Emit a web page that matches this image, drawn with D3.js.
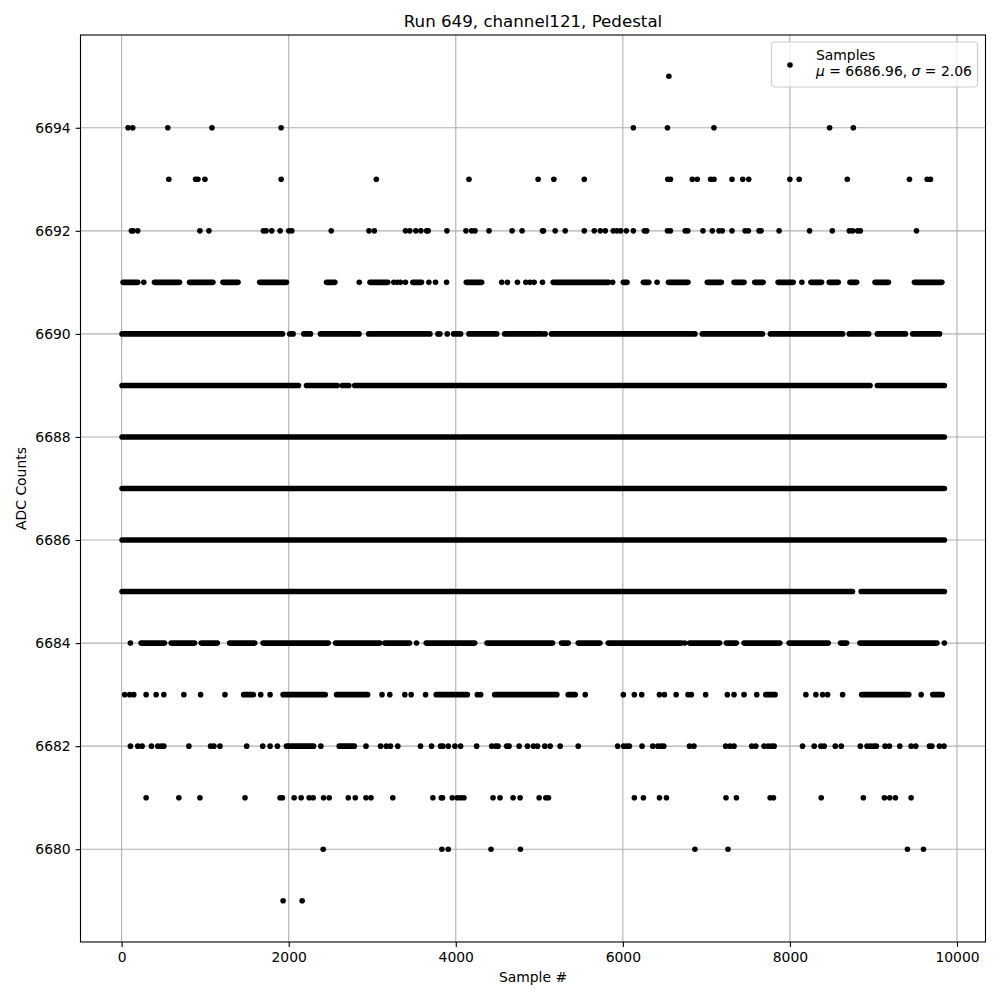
<!DOCTYPE html>
<html><head><meta charset="utf-8">
<script src="https://cdn.jsdelivr.net/npm/d3@7"></script>
<style>body{margin:0;background:#fff} text{font-family:"DejaVu Sans",sans-serif;fill:#000}</style>
</head><body><svg id="c" width="1000" height="1000"></svg>
<script>
// Sample indices per ADC level. A number = one sample; [a, b] = a run of consecutive samples
// at that level that merge into a solid band in the picture.
const adc6679 = [1933, 2161];
const adc6680 = [2413, 3834, 3910, 4422, 4774, 6863, 7259, 9407, 9599];
const adc6681 = [293, 685, 937, 1477, 1897, 1925, 2065, 2149, 2245, 2293, 2417, 2485, 2713, 2797, 2925, 2985, 3246, 3726, 3826, 3842, 3958, 4018, 4058, 4098, 4446, 4530, 4686, 4770, 4998, 5078, 5110, 6138, 6246, 6438, 6522, 7235, 7359, 7763, 7803, 8375, 8879, 9131, 9195, 9263, 9451];
const adc6682 = [105, 193, 245, 357, 433, 473, 505, 805, 1065, 1105, 1177, 1497, 1689, 1777, 1865, [1973, 2297], 2385, [2605, 2785], 2925, 3100, 3168, 3218, 3306, 3578, 3710, 3818, 3846, 3910, 3990, 4058, 4250, 4430, 4478, 4506, 4610, 4638, 4758, 4858, 4930, 4978, 5066, 5130, 5250, 5466, 5938, 6010, 6046, 6078, 6230, 6358, 6418, 6458, 6490, 6798, 6851, 7231, 7283, 7331, 7543, 7591, 7691, 7739, 7779, 7811, 8151, 8291, 8371, 8411, 8543, 8615, 8843, 8923, 8963, 9003, 9035, 9139, 9191, 9315, 9451, 9507, 9671, 9699, 9790, 9845];
const adc6683 = [37, 97, 145, 293, 413, 505, 745, 945, 1237, [1461, 1577], 1665, 1777, [1933, 2437], [2573, 2945], 3117, 3210, 3390, 3466, 3638, [3766, 4138], 4258, 4298, [4466, 5210], [5346, 5430], 5550, 6006, 6138, 6226, 6438, 6498, 6638, 6780, 6820, 6991, 7251, 7331, 7451, 7603, [7711, 7823], 8191, 8311, 8391, 8451, 8631, [8859, 9423], 9571, [9711, 9823]];
const adc6684 = [105, [233, 513], [593, 873], [953, 1145], [1293, 1593], [1693, 2473], [2561, 3090], [3150, 3446], 3530, [3646, 4226], [4374, 5158], [5266, 5346], [5466, 5726], [5826, 6700], 6740, [6799, 7159], [7239, 7359], [7451, 7879], [7991, 8459], [8607, 8679], [8839, 9759], 9849];
const adc6685 = [[5, 8749], [8853, 9849]];
const adc6686 = [[5, 9849]];
const adc6687 = [[5, 9849]];
const adc6688 = [[5, 9849]];
const adc6689 = [[5, 2117], [2213, 2580], [2640, 2720], [2790, 8959], [9047, 9849]];
const adc6690 = [[5, 1925], [2013, 2053], [2181, 2261], [2381, 2841], [2957, 3690], 3786, 3810, 3898, [3974, 4058], [4158, 4490], [4586, 5030], 5070, [5146, 6863], [6951, 7671], [7767, 8631], [8711, 8943], [9047, 9383], [9471, 9791]];
const adc6691 = [[17, 193], 265, [393, 693], [813, 1093], [1213, 1393], [1653, 1973], [2453, 2553], 2845, [2973, 3186], 3258, 3298, 3338, 3398, [3486, 3590], 3678, 3758, 3890, [4126, 4310], 4550, 4618, 4738, 4838, 4890, 4938, 5038, [5166, 5830], 5878, [6006, 6050], [6246, 6310], 6410, [6546, 6779], [7011, 7179], [7331, 7451], [7579, 7679], [7859, 8039], 8143, [8251, 8379], [8471, 8579], [8719, 8799], [9019, 9179], [9491, 9819]];
const adc6692 = [117, 137, 193, 937, 1045, 1697, 1729, 1797, 1897, 2001, 2037, 2509, 2961, 3025, 3398, 3450, 3522, 3582, 3650, 3670, 3894, 4122, 4190, 4230, 4398, 4674, 4794, 5038, 5050, 5190, 5310, 5538, 5658, 5730, 5790, 5886, 5930, 5974, 6042, 6126, 6258, 6286, 6534, 6570, 6746, 6778, 6959, 7071, 7151, 7191, 7307, 7463, 7503, 7631, 7655, 7871, 8235, 8507, 8711, 8751, 8811, 8843, 9515];
const adc6693 = [565, 885, 913, 997, 1909, 3049, 4158, 4986, 5174, 5538, 6538, 6570, 6831, 6891, 7051, 7091, 7307, 7435, 7507, 7999, 8111, 8687, 9431, 9643, 9683];
const adc6694 = [77, 133, 553, 1081, 1909, 6126, 6534, 7091, 8475, 8759];
const adc6695 = [6551];

const levels = [6679, 6680, 6681, 6682, 6683, 6684, 6685, 6686, 6687, 6688, 6689, 6690, 6691, 6692, 6693, 6694, 6695];
const samplesByLevel = [adc6679, adc6680, adc6681, adc6682, adc6683, adc6684, adc6685, adc6686, adc6687, adc6688, adc6689, adc6690, adc6691, adc6692, adc6693, adc6694, adc6695];
const xTicks = [0, 2000, 4000, 6000, 8000, 10000];
const yTicks = [6680, 6682, 6684, 6686, 6688, 6690, 6692, 6694];
const sampleExtent = [0, 9849];
const titleText = "Run 649, channel121, Pedestal";
const xLabel = "Sample #";
const yLabel = "ADC Counts";
const legendName = "Samples";
const statMu = "6686.96";
const statSigma = "2.06";

const svg = d3.select("#c");
svg.append("rect").attr("width", 1000).attr("height", 1000).attr("fill", "#fff");

const L = 80.5, R = 985.5, T = 35, B = 942;
const xPad = 0.05 * (sampleExtent[1] - sampleExtent[0]);
const yPad = 0.05 * (d3.max(levels) - d3.min(levels));
const x = d3.scaleLinear().domain([sampleExtent[0] - xPad, sampleExtent[1] + xPad]).range([L, R]);
const y = d3.scaleLinear().domain([d3.min(levels) - yPad, d3.max(levels) + yPad]).range([B, T]);

// grid
const grid = svg.append("g").attr("stroke", "#b0b0b0").attr("stroke-width", 1.1);
xTicks.forEach(t => grid.append("line").attr("x1", x(t)).attr("x2", x(t)).attr("y1", T).attr("y2", B));
yTicks.forEach(t => grid.append("line").attr("y1", y(t)).attr("y2", y(t)).attr("x1", L).attr("x2", R));

// points
const r = 2.8;
const plot = svg.append("g").attr("fill", "#000");
levels.forEach((lev, i) => {
  samplesByLevel[i].forEach(s => {
    if (Array.isArray(s)) {
      plot.append("rect")
        .attr("x", x(s[0]) - r).attr("width", x(s[1]) - x(s[0]) + 2 * r)
        .attr("y", y(lev) - r).attr("height", 2 * r).attr("rx", r).attr("ry", r);
    } else {
      plot.append("circle").attr("cx", x(s)).attr("cy", y(lev)).attr("r", r);
    }
  });
});

// axes
const xAxis = d3.axisBottom(x).tickValues(xTicks).tickFormat(d3.format("d")).tickSize(4.9).tickPadding(4.9);
const yAxis = d3.axisLeft(y).tickValues(yTicks).tickFormat(d3.format("d")).tickSize(4.9).tickPadding(4.9);
const gx = svg.append("g").attr("transform", `translate(0,${B})`).call(xAxis);
const gy = svg.append("g").attr("transform", `translate(${L},0)`).call(yAxis);
[gx, gy].forEach(g => {
  g.select(".domain").remove();
  g.selectAll(".tick line").attr("stroke", "#000").attr("stroke-width", 1.1);
  g.selectAll(".tick text").attr("font-family", "DejaVu Sans").attr("font-size", 13.9).attr("fill", "#000");
});

// spines
svg.append("rect").attr("x", L).attr("y", T).attr("width", R - L).attr("height", B - T)
  .attr("fill", "none").attr("stroke", "#000").attr("stroke-width", 1.1);

// title and labels
svg.append("text").attr("x", (L + R) / 2).attr("y", 27).attr("text-anchor", "middle")
  .attr("font-size", 16.67).text(titleText);
svg.append("text").attr("x", (L + R) / 2).attr("y", 982).attr("text-anchor", "middle")
  .attr("font-size", 13.9).text(xLabel);
svg.append("text").attr("transform", `translate(26,${(T + B) / 2}) rotate(-90)`).attr("text-anchor", "middle")
  .attr("font-size", 13.9).text(yLabel);

// legend
const lg = svg.append("g");
lg.append("rect").attr("x", 771.5).attr("y", 42).attr("width", 206).attr("height", 45).attr("rx", 3.5)
  .attr("fill", "#fff").attr("fill-opacity", 0.8).attr("stroke", "#cccccc").attr("stroke-width", 1.1);
lg.append("circle").attr("cx", 790).attr("cy", 65).attr("r", r).attr("fill", "#000");
lg.append("text").attr("x", 816).attr("y", 60).attr("font-size", 13.9).text(legendName);
const t2 = lg.append("text").attr("x", 816).attr("y", 76).attr("font-size", 13.9);
t2.append("tspan").attr("font-style", "italic").text("μ");
t2.append("tspan").text(` = ${statMu}, `);
t2.append("tspan").attr("font-style", "italic").text("σ");
t2.append("tspan").text(` = ${statSigma}`);
</script></body></html>
